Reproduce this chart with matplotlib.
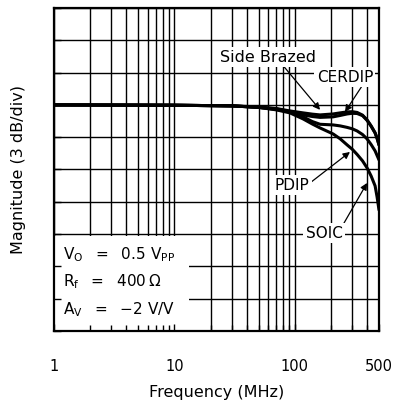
import matplotlib
matplotlib.use("Agg")
import matplotlib.pyplot as plt
from matplotlib.patches import Rectangle
from matplotlib.ticker import FixedLocator, FixedFormatter, NullFormatter

# frequency response (MHz, dB)
freq_mhz = [1, 10, 30, 50, 70, 91, 117, 140, 162, 208, 238, 272, 300, 329, 365, 398, 430, 464, 482, 500]
cerdip_db = [0, -0.03, -0.09, -0.19, -0.33, -0.56, -0.74, -0.86, -0.93, -0.84, -0.74,
             -0.65, -0.63, -0.70, -0.95, -1.39, -1.95, -2.60, -3.10, -3.72]
side_brazed_db = [0, -0.03, -0.09, -0.23, -0.37, -0.65, -0.93, -1.08, -1.16, -1.11, -0.98,
                  -0.84, -0.78, -0.80, -1.00, -1.44, -1.98, -2.60, -3.10, -3.72]
pdip_db = [0, -0.03, -0.09, -0.23, -0.42, -0.65, -1.11, -1.55, -1.80, -1.86, -1.95,
           -2.09, -2.22, -2.42, -2.75, -3.16, -3.68, -4.27, -4.70, -5.11]
soic_db = [0, -0.03, -0.09, -0.23, -0.46, -0.74, -1.30, -1.78, -2.14, -2.70, -3.15,
           -3.72, -4.12, -4.60, -5.20, -5.85, -6.60, -7.52, -8.55, -9.76]

major_ticks = [1, 10, 100, 500]
minor_ticks = [2, 3, 4, 5, 6, 7, 8, 9, 20, 30, 40, 50, 60, 70, 80, 90, 200, 300, 400]
db_ticks = list(range(-21, 10, 3))

plt.rcParams["font.family"] = "DejaVu Sans"

fig = plt.figure(figsize=(3.94, 4.08), dpi=100)
ax = fig.add_axes([54 / 394, 1 - 331 / 408, 325 / 394, 323 / 408])
ax.set_xscale("log")
ax.set_xlim(1, 500)
ax.set_ylim(-21, 9)

# grid
for f in major_ticks + minor_ticks:
    ax.axvline(f, color="black", lw=1.0, zorder=1)
for d in db_ticks:
    ax.axhline(d, color="black", lw=1.0, zorder=1)

# white box for the test conditions
ax.add_patch(Rectangle((1, -21), 12.2, 8.85, facecolor="white", edgecolor="none", zorder=2))

for series in (cerdip_db, side_brazed_db, pdip_db, soic_db):
    ax.plot(freq_mhz, series, color="black", lw=2.2, solid_joinstyle="round",
            solid_capstyle="round", zorder=3)

ax.xaxis.set_major_locator(FixedLocator(major_ticks))
ax.xaxis.set_minor_locator(FixedLocator(minor_ticks))
ax.xaxis.set_major_formatter(FixedFormatter([str(t) for t in major_ticks]))
ax.xaxis.set_minor_formatter(NullFormatter())
ax.yaxis.set_major_locator(FixedLocator(db_ticks))
ax.yaxis.set_major_formatter(NullFormatter())
ax.tick_params(axis="both", which="both", direction="in", color="black", width=1.0)
ax.tick_params(axis="x", which="major", length=5, pad=20, labelsize=10.5)
ax.tick_params(axis="x", which="minor", length=4)
ax.tick_params(axis="y", which="major", length=5)
ax.set_axisbelow(False)
for s in ax.spines.values():
    s.set_linewidth(1.6)
    s.set_zorder(6)

ax.set_xlabel("Frequency (MHz)", fontsize=11.5, labelpad=8)
ax.set_ylabel("Magnitude (3 dB/div)", fontsize=11.5, labelpad=17)

box = dict(boxstyle="square,pad=0.15", fc="white", ec="none")
arrow = dict(arrowstyle="-|>", color="black", lw=0.9, mutation_scale=10,
             shrinkA=0, shrinkB=0)

ax.annotate("Side Brazed", xy=(162, -0.46), xytext=(0.658, 0.848),
            textcoords="axes fraction", ha="center", va="center", fontsize=11.5,
            bbox=box, arrowprops=dict(arrow, relpos=(0.65, 0.0)), zorder=5)
ax.annotate("CERDIP", xy=(261, -0.65), xytext=(0.895, 0.786),
            textcoords="axes fraction", ha="center", va="center", fontsize=11,
            bbox=box, arrowprops=dict(arrow, relpos=(0.82, 0.0)), zorder=5)
ax.annotate("PDIP", xy=(287, -4.37), xytext=(0.732, 0.452),
            textcoords="axes fraction", ha="center", va="center", fontsize=11,
            bbox=box, arrowprops=dict(arrow, relpos=(1.0, 0.6)), zorder=5)
ax.annotate("SOIC", xy=(398, -7.25), xytext=(0.831, 0.303),
            textcoords="axes fraction", ha="center", va="center", fontsize=11,
            bbox=box, arrowprops=dict(arrow, relpos=(1.0, 1.0)), zorder=5)

conditions = [r"$\mathregular{V_O\ \ =\ \ 0.5\ V_{PP}}$",
              r"$\mathregular{R_f\ \ =\ \ 400\,\Omega}$",
              r"$\mathregular{A_V\ \ =\ \ {-}2\ V/V}$"]
for txt, yf in zip(conditions, [0.235, 0.152, 0.065]):
    ax.text(0.028, yf, txt, transform=ax.transAxes, ha="left", va="center",
            fontsize=11, zorder=5)

fig.savefig("out.png", dpi=100)
